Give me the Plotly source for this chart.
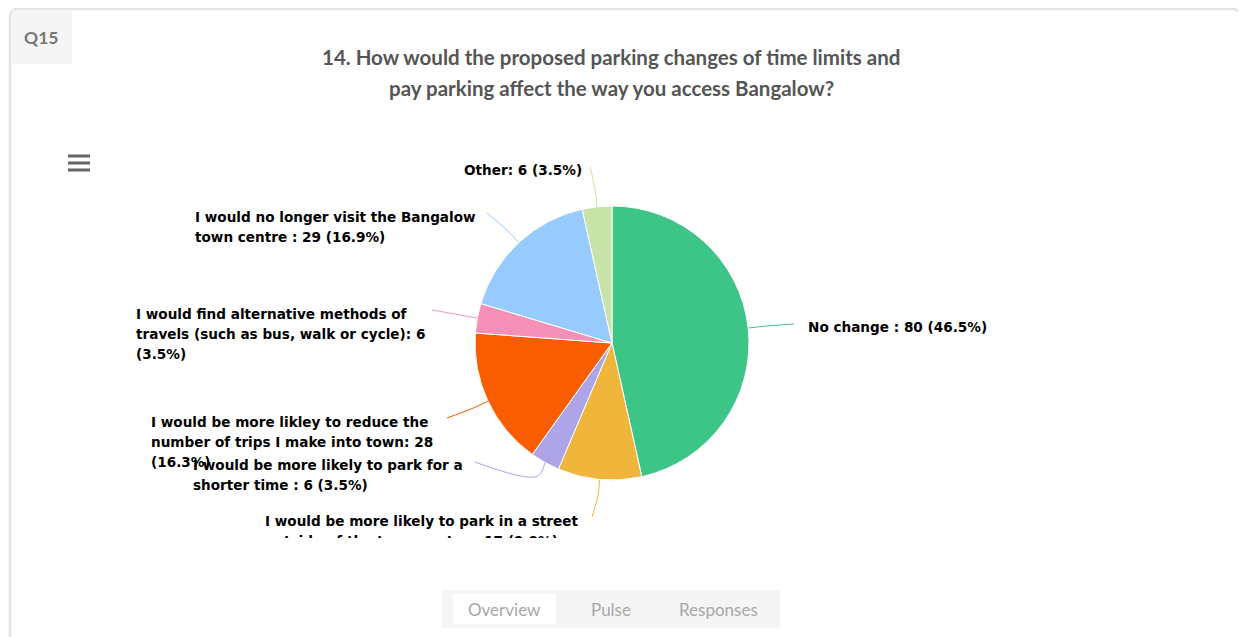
import math
import textwrap
import plotly.graph_objects as go

W, H = 1246, 637
OFF = 8  # page body margin; axes below use page pixel coordinates

# Data
title_lines = ["14. How would the proposed parking changes of time limits and",
               "pay parking affect the way you access Bangalow?"]

categories = ["No change ",
              "I would be more likely to park in a street outside of the town centre ",
              "I would be more likely to park for a shorter time ",
              "I would be more likley to reduce the number of trips I make into town",
              "I would find alternative methods of travels (such as bus, walk or cycle)",
              "I would no longer visit the Bangalow town centre ",
              "Other"]
counts = [80, 17, 6, 28, 6, 29, 6]
colors = ["#3dc487", "#f0b63c", "#ada5e8", "#fa5c00", "#f690b8", "#97cafe", "#c8e3a7"]

tabs = ["Overview", "Pulse", "Responses"]

# label layout: text left x, first line y, wrap width (chars), connector end x, y
label_x = [808, 265, 193, 151, 136, 195, 464]
label_y = [329, 523, 467, 424, 316, 219, 172]
wrap_w = [60, 44, 38, 38, 39, 37, 40]
conn_x = [794, 592, 475, 447, 432, 487, 590]
conn_y = [324, 517, 462, 418, 310, 213, 166]

cx, cy, r = 612, 343, 137
LINE = 20
LABEL_FONT = dict(family="DejaVu Sans", size=13.6, color="#000000")

fw, fh = W - OFF, H - OFF


def fx(x):
    return (x - OFF) / fw


def fy(y):
    return 1 - (y - OFF) / fh


fig = go.Figure()

# pie
fig.add_trace(go.Pie(
    labels=categories, values=counts, sort=False, direction="clockwise",
    marker=dict(colors=colors, line=dict(color="white", width=1)),
    textinfo="none", hoverinfo="label+value+percent", showlegend=False,
    domain=dict(x=[fx(cx - r), fx(cx + r)], y=[fy(cy + r), fy(cy - r)]),
))

# connectors and labels
total = sum(counts)
start = 0
for i, (name, c) in enumerate(zip(categories, counts)):
    mid = (start + c / 2) / total * 2 * math.pi
    start += c
    sx, sy = math.sin(mid), -math.cos(mid)
    ex, ey = cx + r * sx, cy + r * sy
    bx, by = cx + (r + 16) * sx, cy + (r + 16) * sy
    fig.add_trace(go.Scatter(
        x=[conn_x[i], bx, ex], y=[conn_y[i], by, ey], mode="lines",
        line=dict(color=colors[i], width=1, shape="spline"),
        hoverinfo="skip", showlegend=False, xaxis="x", yaxis="y"))

    pct = c / total * 100
    text = f"{name}: {c} ({pct:.1f}%)"
    lines = textwrap.wrap(text, wrap_w[i])
    fig.add_trace(go.Scatter(
        x=[label_x[i]] * len(lines),
        y=[label_y[i] + k * LINE for k in range(len(lines))],
        text=[f"<b>{ln}</b>" for ln in lines], mode="text",
        textposition="middle right", textfont=LABEL_FONT, cliponaxis=True,
        hoverinfo="skip", showlegend=False, xaxis="x2", yaxis="y2"))

shapes = [
    # card
    dict(type="path", path="M 10 660 L 10 17 Q 10 9 18 9 L 1232 9 Q 1240 9 1240 17 L 1240 660",
         line=dict(color="#e3e3e3", width=2.5), xref="x", yref="y"),
    # Q15 box
    dict(type="rect", x0=12, x1=72, y0=10, y1=64, fillcolor="#f5f5f5", line_width=0,
         xref="x", yref="y"),
    # tab bar
    dict(type="rect", x0=442, x1=780, y0=590, y1=628, fillcolor="#f5f5f5", line_width=0,
         xref="x", yref="y"),
    dict(type="rect", x0=453, x1=556, y0=594, y1=624, fillcolor="#ffffff", line_width=0,
         xref="x", yref="y"),
]
# hamburger menu
for yy in [156, 163, 170]:
    shapes.append(dict(type="line", x0=68, x1=90, y0=yy, y1=yy,
                       line=dict(color="#666666", width=3), xref="x", yref="y"))

annotations = [
    dict(text="<b>Q15</b>", x=41, y=37, showarrow=False, xref="x", yref="y",
         font=dict(family="Lato", size=17.5, color="#777777")),
]
for k, t in enumerate(title_lines):
    annotations.append(dict(text=f"<b>{t}</b>", x=611, y=57 + 31 * k, showarrow=False,
                            xref="x", yref="y",
                            font=dict(family="Lato", size=20.5, color="#555555")))
for t, xx in zip(tabs, [504, 611, 718]):
    annotations.append(dict(text=t, x=xx, y=609, showarrow=False, xref="x", yref="y",
                            font=dict(family="Lato", size=17, color="#a8a8a8")))

fig.update_layout(
    width=fw, height=fh, margin=dict(l=0, r=0, t=0, b=0),
    paper_bgcolor="white", plot_bgcolor="rgba(0,0,0,0)",
    xaxis=dict(range=[OFF, W], domain=[0, 1], visible=False, fixedrange=True),
    yaxis=dict(range=[H, OFF], domain=[0, 1], visible=False, fixedrange=True),
    xaxis2=dict(range=[OFF, W], domain=[0, 1], visible=False, fixedrange=True, anchor="y2"),
    yaxis2=dict(range=[538, OFF], domain=[fy(538), 1], visible=False, fixedrange=True,
                anchor="x2"),
    shapes=shapes, annotations=annotations,
)

fig.write_html("out.html")
